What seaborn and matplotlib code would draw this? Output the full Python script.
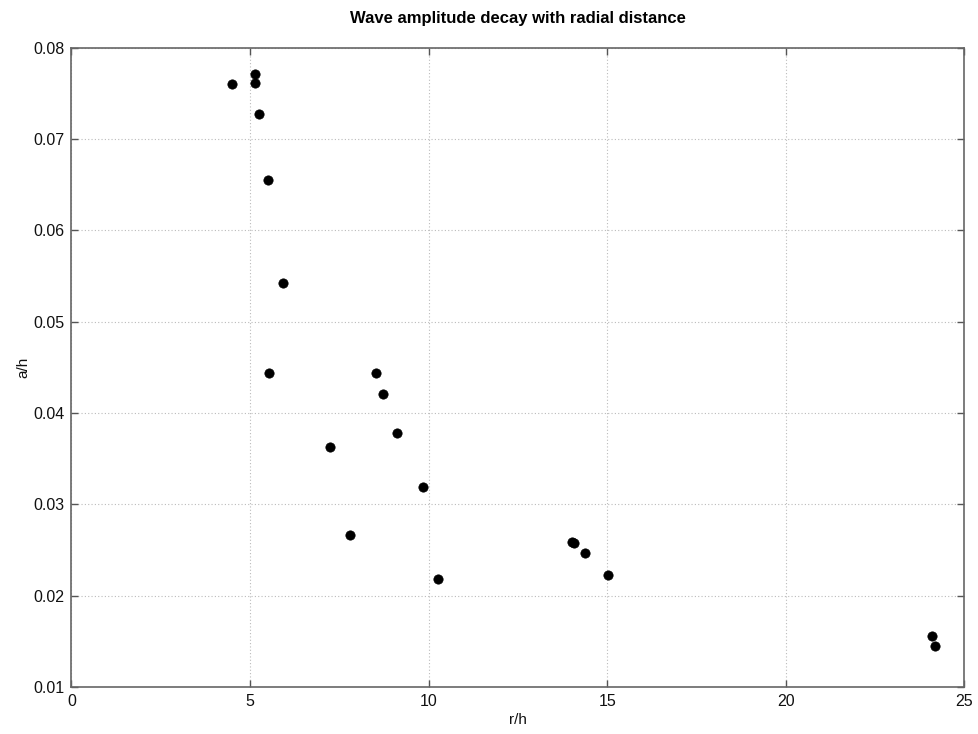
import matplotlib
matplotlib.use("Agg")
import matplotlib.pyplot as plt
import seaborn as sns
import pandas as pd

r_h = [4.50, 5.14, 5.14, 5.25, 5.49, 5.92, 5.52, 8.52, 8.73, 9.11, 7.24,
       9.83, 7.81, 10.26, 14.01, 14.08, 14.38, 15.01, 24.10, 24.19]
a_h = [0.0760, 0.0771, 0.0761, 0.0727, 0.0655, 0.0542, 0.0444, 0.0444, 0.0421, 0.0378, 0.0363,
       0.0319, 0.0266, 0.0218, 0.0259, 0.0258, 0.0247, 0.0223, 0.0156, 0.0145]
x_ticks = [0, 5, 10, 15, 20, 25]
y_ticks = [0.01, 0.02, 0.03, 0.04, 0.05, 0.06, 0.07, 0.08]
y_tick_labels = ["0.01", "0.02", "0.03", "0.04", "0.05", "0.06", "0.07", "0.08"]

df = pd.DataFrame({"r/h": r_h, "a/h": a_h})

sns.set_style("white")
plt.rcParams['font.family'] = ['Liberation Sans', 'DejaVu Sans']

fig = plt.figure(figsize=(9.79, 7.34), dpi=100)
ax = fig.add_axes([0.073, 0.064, 0.912, 0.871])

sns.scatterplot(data=df, x="r/h", y="a/h", ax=ax, color="black", s=45,
                edgecolor="black", linewidth=0.5, zorder=3)

ax.set_xlim(0, 25)
ax.set_ylim(0.01, 0.08)
ax.set_xticks(x_ticks)
ax.set_yticks(y_ticks)
ax.set_yticklabels(y_tick_labels)
ax.grid(True, linestyle=(0, (1, 2)), color="#bbbbbb", linewidth=0.8)
ax.tick_params(direction="in", length=5, width=1, colors="#555555",
               labelcolor="#111111", labelsize=11.5, top=True, right=True,
               bottom=True, left=True, pad=5)
for sp in ax.spines.values():
    sp.set_color("#666666")
    sp.set_linewidth(1.2)
ax.set_xlabel("r/h", fontsize=11, labelpad=3, color="#111111")
ax.set_ylabel("a/h", fontsize=11, labelpad=2, color="#111111")
ax.set_title("Wave amplitude decay with radial distance", fontsize=12,
             fontweight="bold", pad=18, color="black")

fig.savefig("out.png", dpi=100, facecolor="white")
